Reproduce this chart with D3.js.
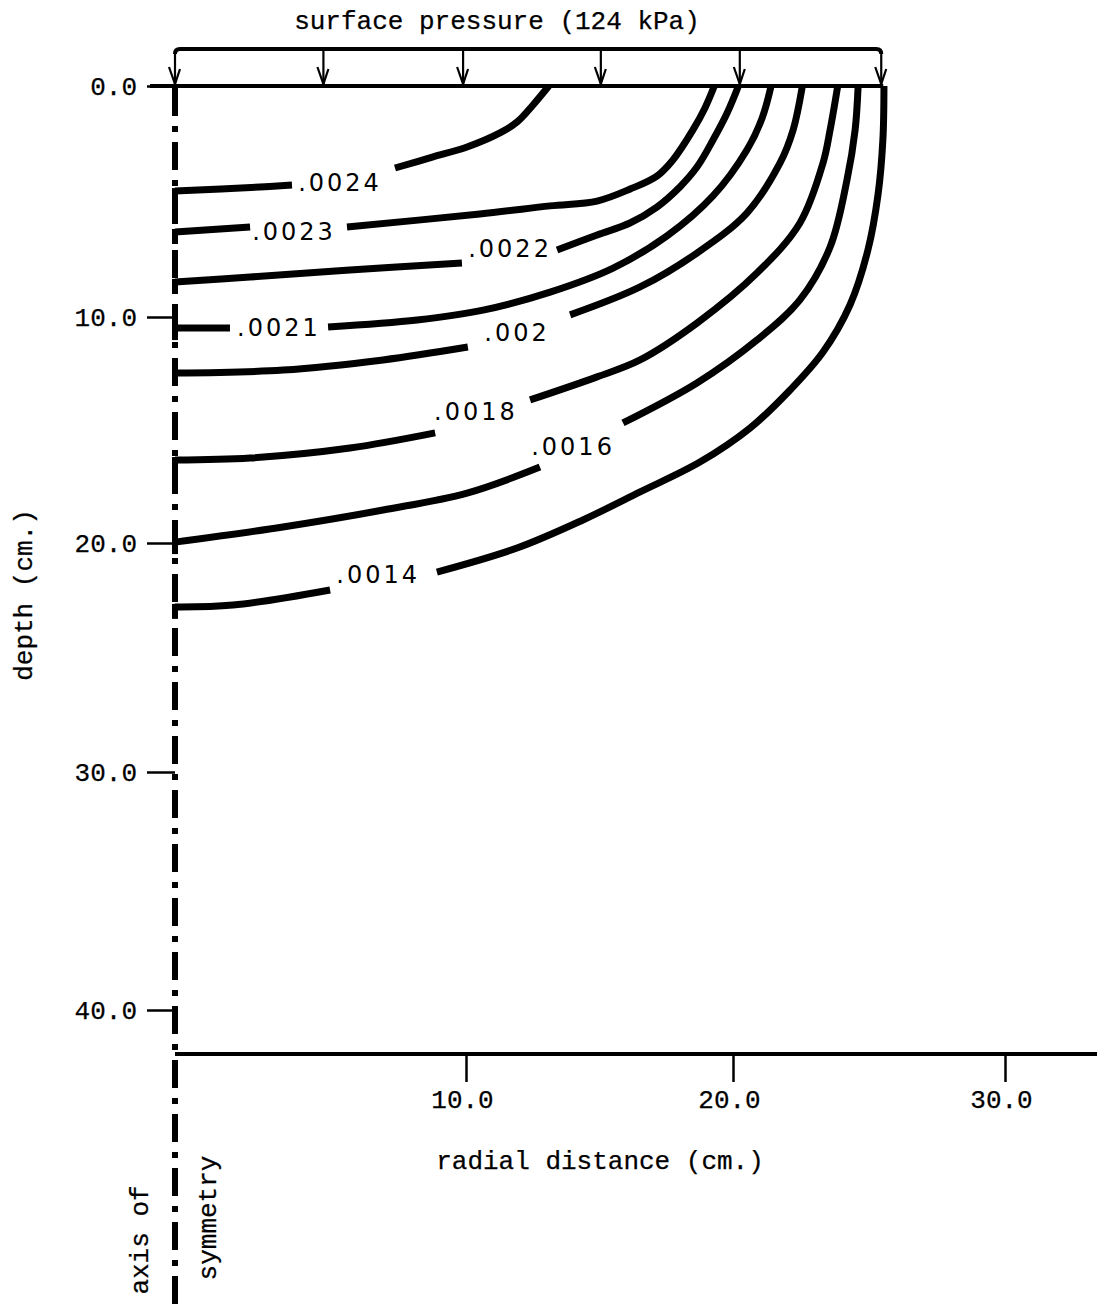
<!DOCTYPE html>
<html>
<head>
<meta charset="utf-8">
<script src="https://cdn.jsdelivr.net/npm/d3@7"></script>
<style>
  html, body { margin: 0; background: #fff; }
  svg { display: block; }
</style>
</head>
<body>
<svg id="chart" width="1097" height="1314"></svg>
<script>
// Contour levels of strain beneath a uniformly loaded circular area
const levels = [".0024", ".0023", ".0022", ".0021", ".002", ".0018", ".0016", ".0014"];

// Each contour: [radial distance (cm), depth (cm)]; null marks the break left for its label
const contour0024 = [[0, 4.55], [2.92, 4.37], [4.02, 4.29], null,
  [7.56, 3.55], [8.87, 3.07], [10.04, 2.64], [11.27, 2.03], [11.91, 1.56], [12.51, 0.82], [13.1, 0]];
const contour0023 = [[0, 6.32], [2.58, 6.1], null,
  [5.91, 6.1], [10.52, 5.54], [13.15, 5.19], [14.91, 4.98], [16.15, 4.46], [17.15, 3.9],
  [17.75, 3.2], [18.5, 1.9], [18.95, 0.95], [19.3, 0]];
const contour0022 = [[0, 8.48], [2.58, 8.27], [6.01, 7.97], [9.86, 7.66], null,
  [13.41, 7.1], [14.91, 6.45], [16.14, 5.93], [17.15, 5.24], [18.01, 4.37], [18.65, 3.51],
  [19.25, 2.34], [19.78, 1.17], [20.2, 0]];
const contour0021 = [[0, 10.49], [1.89, 10.49], null,
  [5.26, 10.44], [8.32, 10.13], [10.64, 9.7], [13.15, 8.92], [15.51, 7.88], [17.53, 6.49],
  [19.25, 4.76], [20.51, 2.77], [21.07, 1.39], [21.4, 0]];
const contour0020 = [[0, 12.48], [3.71, 12.35], [7.15, 11.9], [10.07, 11.33], null,
  [13.9, 9.91], [16.52, 8.7], [18.65, 7.23], [20.51, 5.5], [21.73, 3.33], [22.21, 1.9], [22.55, 0]];
const contour0018 = [[0, 16.33], [2.58, 16.24], [6.01, 15.8], [8.94, 15.13], null,
  [12.4, 13.67], [14.91, 12.65], [16.52, 11.9], [18.65, 10.27], [20.88, 8.1], [22.46, 5.93],
  [23.31, 3.33], [23.57, 1.9], [23.85, 0]];
const contour0016 = [[0, 19.96], [3.71, 19.29], [7.15, 18.54], [10.04, 17.79], [12.77, 16.64], null,
  [15.88, 14.69], [18.65, 12.92], [20.88, 11.02], [22.46, 9.26], [23.57, 6.97], [24.19, 4.07],
  [24.49, 1.9], [24.6, 0]];
const contour0014 = [[0, 22.79], [1.99, 22.71], [5.33, 22.05], null,
  [9.0, 21.27], [11.91, 20.22], [14.38, 18.98], [16.52, 17.74], [18.76, 16.42], [20.63, 14.91],
  [22.1, 13.23], [23.31, 11.55], [24.3, 9.48], [24.96, 7.1], [25.33, 4.72], [25.51, 2.34], [25.55, 0]];

// Where each level label sits: [radial distance (cm), depth (cm)]
const labelPoints = [[5.67, 4.2], [4.09, 6.32], [11.65, 7.06], [3.57, 10.49],
  [11.91, 10.71], [10.37, 14.2], [14.01, 15.75], [6.98, 21.4]];

// Load arrows across the loaded radius (cm)
const loadArrows = [0, 5.1, 9.9, 15.05, 20.25, 25.45];

const depthTicks = [0, 10, 20, 30, 40];
const radialTicks = [10, 20, 30];
const bottomDepth = 41.85;

const loadTitle = "surface pressure (124 kPa)";
const xTitle = "radial distance (cm.)";
const yTitle = "depth (cm.)";

const contours = [contour0024, contour0023, contour0022, contour0021,
  contour0020, contour0018, contour0016, contour0014];

// ---- drawing ----
const W = 1097, H = 1314;
const svg = d3.select("#chart");
const mono = "'Liberation Mono', 'Courier New', monospace";
const sans = "'DejaVu Sans', 'Liberation Sans', sans-serif";

const x = d3.scaleLinear().domain([0, 10, 20, 30]).range([175, 466, 733, 1005]);
const y = d3.scaleLinear().domain([0, 10, 20, 30, 40]).range([86, 317, 543, 772, 1010]);

function typewriter(sel, size) {
  return sel.style("font-family", mono).style("font-size", size + "px")
    .attr("fill", "#000").attr("stroke", "#000").attr("stroke-width", 0.25);
}

// axis of symmetry (dash-dot)
svg.append("line")
  .attr("x1", x(0)).attr("x2", x(0))
  .attr("y1", y(0) + 2).attr("y2", H)
  .attr("stroke", "#000").attr("stroke-width", 6)
  .attr("stroke-dasharray", "28,10,6,10");

// strain contours
const line = d3.line()
  .defined(d => d !== null)
  .x(d => x(d[0])).y(d => y(d[1]))
  .curve(d3.curveCatmullRom.alpha(0.5));

svg.append("g").selectAll("path")
  .data(contours).join("path")
  .attr("d", line)
  .attr("fill", "none").attr("stroke", "#000")
  .attr("stroke-width", 7).attr("stroke-linecap", "butt").attr("stroke-linejoin", "round");

// short caps where contours meet the axis
svg.append("g").selectAll("line")
  .data(contours).join("line")
  .attr("x1", x(0)).attr("x2", x(0))
  .attr("y1", d => y(d[0][1]) - 3).attr("y2", d => y(d[0][1]) + 12)
  .attr("stroke", "#000").attr("stroke-width", 6);

// level labels
svg.append("g").selectAll("text")
  .data(levels).join("text")
  .attr("x", (d, i) => x(labelPoints[i][0]))
  .attr("y", (d, i) => y(labelPoints[i][1]))
  .attr("text-anchor", "middle").attr("dominant-baseline", "central")
  .style("font-family", sans).style("font-size", "24px").style("letter-spacing", "3px")
  .attr("fill", "#000")
  .text(d => d);

// ground surface
svg.append("line")
  .attr("x1", 150).attr("x2", x(loadArrows[loadArrows.length - 1]) + 2)
  .attr("y1", y(0)).attr("y2", y(0))
  .attr("stroke", "#000").attr("stroke-width", 4);

// pressure box
const boxTop = 49;
const xl = x(loadArrows[0]), xr = x(loadArrows[loadArrows.length - 1]);
svg.append("path")
  .attr("d", `M${xl},${boxTop + 5} Q${xl},${boxTop} ${xl + 5},${boxTop} H${xr - 5} Q${xr},${boxTop} ${xr},${boxTop + 5}`)
  .attr("fill", "none").attr("stroke", "#000").attr("stroke-width", 4);

const arrows = svg.append("g").selectAll("g").data(loadArrows).join("g")
  .attr("transform", d => `translate(${x(d)},0)`);
arrows.append("line")
  .attr("x1", 0).attr("x2", 0).attr("y1", boxTop + 2).attr("y2", y(0))
  .attr("stroke", "#000").attr("stroke-width", 2.2);
arrows.append("path")
  .attr("d", `M-6,${y(0) - 19} L0,${y(0) - 2} L5,${y(0) - 17}`)
  .attr("fill", "none").attr("stroke", "#000").attr("stroke-width", 2.2);

typewriter(svg.append("text"), 26)
  .attr("x", 497).attr("y", 29).attr("text-anchor", "middle")
  .text(loadTitle);

// depth axis ticks
const gy = svg.append("g").attr("transform", `translate(${x(0)},0)`)
  .call(d3.axisLeft(y).tickValues(depthTicks).tickSize(28).tickPadding(10).tickFormat(d3.format(".1f")));
gy.select(".domain").remove();
gy.selectAll(".tick line").attr("stroke", "#000").attr("stroke-width", 2.5);
typewriter(gy.selectAll(".tick text"), 26);

// radial axis
const yb = y(bottomDepth);
svg.append("line")
  .attr("x1", x(0)).attr("x2", W).attr("y1", yb).attr("y2", yb)
  .attr("stroke", "#000").attr("stroke-width", 4);
const gx = svg.append("g").attr("transform", `translate(0,${yb})`)
  .call(d3.axisBottom(x).tickValues(radialTicks).tickSize(28).tickPadding(8).tickFormat(d3.format(".1f")));
gx.select(".domain").remove();
gx.selectAll(".tick line").attr("stroke", "#000").attr("stroke-width", 2.5);
typewriter(gx.selectAll(".tick text"), 26).attr("dx", -4);

typewriter(svg.append("text"), 26)
  .attr("x", 600).attr("y", 1169).attr("text-anchor", "middle")
  .text(xTitle);

typewriter(svg.append("text"), 26)
  .attr("transform", "translate(32,595) rotate(-90)")
  .attr("text-anchor", "middle")
  .text(yTitle);

typewriter(svg.append("text"), 26)
  .attr("transform", "translate(148,1240) rotate(-90)")
  .attr("text-anchor", "middle")
  .text("axis of");

typewriter(svg.append("text"), 26)
  .attr("transform", "translate(216,1218) rotate(-90)")
  .attr("text-anchor", "middle")
  .text("symmetry");
</script>
</body>
</html>
